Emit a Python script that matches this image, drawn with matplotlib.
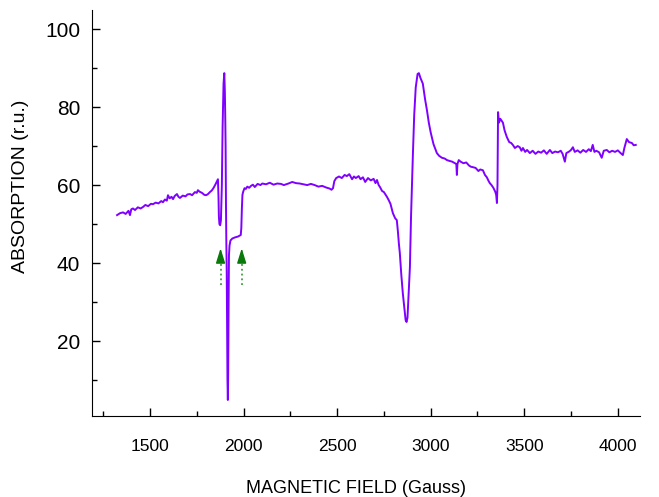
import matplotlib
matplotlib.use("Agg")
import matplotlib.pyplot as plt
import numpy as np

plt.rcParams['font.family'] = ['Liberation Sans', 'DejaVu Sans']

# spectrum (field in Gauss, absorption in r.u.)
field = np.array([
    1324, 1340, 1356, 1370, 1385, 1393, 1400, 1409, 1420, 1435, 1450, 1463, 1475, 1490,
    1505, 1516, 1530, 1545, 1560, 1569, 1580, 1590, 1596, 1605, 1615, 1623, 1632, 1644,
    1652, 1660, 1675, 1690, 1700, 1714, 1725, 1740, 1750, 1756, 1765, 1778, 1790, 1800,
    1810, 1820, 1830, 1840, 1850, 1858, 1863, 1866, 1868, 1871, 1875, 1879, 1884, 1888,
    1893, 1897, 1900, 1902, 1904, 1906, 1908, 1910, 1912, 1914, 1916, 1918, 1920, 1922,
    1925, 1930, 1940, 1955, 1970, 1985, 1988, 1991, 1994, 1998, 2005, 2012, 2020, 2030,
    2040, 2050, 2060, 2075, 2090, 2100, 2120, 2140, 2160, 2180, 2200, 2215, 2240, 2260,
    2280, 2300, 2320, 2340, 2360, 2380, 2400, 2420, 2440, 2460, 2470, 2478, 2485, 2495,
    2510, 2525, 2540, 2552, 2565, 2580, 2590, 2600, 2615, 2625, 2638, 2650, 2665, 2680,
    2695, 2705, 2713, 2722, 2729, 2740, 2750, 2766, 2775, 2785, 2798, 2810, 2819, 2825,
    2830, 2835, 2843, 2851, 2860, 2866, 2871, 2876, 2882, 2889, 2895, 2900, 2905, 2912,
    2920, 2930, 2937, 2945, 2958, 2970, 2980, 2990, 3000, 3006, 3015, 3025, 3033, 3045,
    3060, 3075, 3087, 3100, 3115, 3130, 3137, 3140, 3143, 3150, 3160, 3175, 3190, 3205,
    3215, 3225, 3240, 3255, 3265, 3279, 3290, 3300, 3310, 3316, 3325, 3335, 3345, 3350,
    3354, 3357, 3360, 3365, 3372, 3386, 3395, 3407, 3420, 3430, 3439, 3450, 3465, 3476,
    3485, 3493, 3505, 3515, 3530, 3545, 3560, 3575, 3590, 3605, 3620, 3637, 3650, 3665,
    3680, 3695, 3705, 3717, 3725, 3740, 3750, 3760, 3770, 3785, 3800, 3815, 3830, 3845,
    3856, 3866, 3875, 3885, 3900, 3914, 3925, 3941, 3955, 3970, 3985, 4000, 4015, 4027,
    4035, 4048, 4060, 4075, 4085, 4096])
absorption = np.array([
    52.3, 52.8, 53.0, 52.6, 53.4, 52.3, 53.8, 54.0, 53.6, 54.3, 54.0, 54.4, 54.9, 54.6,
    55.2, 55.1, 55.5, 55.3, 55.9, 55.6, 56.3, 56.0, 57.4, 56.6, 57.0, 56.4, 57.2, 57.7,
    57.0, 56.7, 57.3, 57.1, 57.6, 57.7, 57.4, 58.2, 58.0, 58.7, 58.3, 58.0, 57.5, 57.4,
    57.7, 58.2, 58.6, 59.3, 60.2, 61.0, 61.5, 57.0, 52.0, 50.0, 49.7, 51.0, 60.0, 75.0,
    86.0, 88.7, 84.0, 78.0, 70.0, 55.0, 45.0, 38.0, 22.0, 10.0, 4.9, 12.0, 30.0, 42.0,
    44.5, 45.8, 46.3, 46.6, 46.8, 47.2, 49.0, 54.0, 57.5, 58.3, 59.2, 59.0, 59.6, 59.3,
    59.8, 60.1, 59.5, 60.3, 60.0, 60.4, 60.2, 60.6, 60.1, 60.4, 60.3, 60.0, 60.4, 60.8,
    60.5, 60.4, 60.2, 60.0, 60.3, 60.0, 59.6, 59.8, 59.4, 59.1, 58.8, 59.2, 61.0, 61.8,
    62.2, 61.8, 62.6, 62.3, 62.8, 61.5, 62.2, 61.8, 62.3, 61.5, 62.0, 60.8, 61.8, 61.2,
    61.6, 60.5, 61.3, 60.0, 59.5, 58.5, 58.2, 57.0, 56.2, 55.2, 52.8, 51.5, 51.0, 48.0,
    45.0, 42.6, 37.0, 32.3, 28.0, 25.4, 24.9, 26.0, 32.0, 39.0, 52.0, 60.0, 68.0, 78.0,
    85.0, 88.5, 88.7, 87.5, 86.0, 82.0, 79.2, 76.0, 73.5, 72.3, 70.5, 69.2, 68.2, 67.5,
    67.0, 66.8, 66.4, 66.2, 66.0, 65.6, 65.4, 62.6, 65.4, 66.4, 66.0, 65.6, 65.8, 65.0,
    64.7, 64.6, 64.4, 63.6, 64.0, 63.8, 62.6, 62.0, 61.0, 60.5, 60.0, 59.3, 58.3, 57.5,
    55.4, 60.0, 78.7, 76.0, 77.0, 76.0, 74.0, 72.3, 71.0, 70.8, 70.3, 69.5, 70.0, 69.7,
    68.8, 69.5, 68.5, 69.0, 68.2, 68.8, 68.0, 68.6, 68.3, 68.9, 68.0, 69.0, 68.2, 68.6,
    68.4, 68.8, 68.0, 66.0, 68.2, 68.6, 69.0, 69.7, 68.5, 68.9, 68.3, 69.0, 68.5, 69.2,
    68.7, 70.3, 68.5, 68.8, 68.4, 67.0, 68.8, 69.0, 68.4, 68.8, 68.5, 68.9, 68.2, 67.7,
    69.5, 71.8, 71.0, 70.8, 70.2, 70.3])

# green arrows marking the two weak lines
arrow_fields = [1877, 1990]
arrow_bottom = 34.4
arrow_top = 43.8

fig = plt.figure(figsize=(6.59, 4.97), dpi=100)
ax = fig.add_axes([0.1396, 0.163, 0.8314, 0.817])

ax.plot(field, absorption, color='#8000ff', lw=1.4)

for fx in arrow_fields:
    ax.plot([fx, fx], [arrow_bottom, arrow_top - 3.0], ls=':', color='#3f9f3f', lw=1.3)
    ax.annotate('', xy=(fx, arrow_top), xytext=(fx, arrow_top - 3.6),
                arrowprops=dict(arrowstyle='-|>,head_length=0.9,head_width=0.28',
                                color='#0a780a', lw=1, mutation_scale=10,
                                shrinkA=0, shrinkB=0))

ax.set_xlim(1190, 4118)
ax.set_ylim(0.8, 104.9)
ax.set_xticks([1500, 2000, 2500, 3000, 3500, 4000])
ax.set_xticks(np.arange(1250, 4118, 250), minor=True)
ax.set_yticks([20, 40, 60, 80, 100])
ax.set_yticks(np.arange(10, 104, 10), minor=True)

ax.spines['top'].set_visible(False)
ax.spines['right'].set_visible(False)
ax.tick_params(which='both', direction='in', width=1)
ax.tick_params(which='major', length=6)
ax.tick_params(which='minor', length=3.5)
ax.tick_params(axis='x', pad=16.5, labelsize=12.5)
ax.tick_params(axis='y', pad=8.5, labelsize=15)

ax.set_xlabel('MAGNETIC FIELD (Gauss)', fontsize=13, labelpad=19)
ax.xaxis.label.set_x(0.482)
ax.set_ylabel('ABSORPTION (r.u.)', fontsize=14)
ax.yaxis.set_label_coords(-0.115, 0.566)

fig.savefig('out.png', dpi=100)
